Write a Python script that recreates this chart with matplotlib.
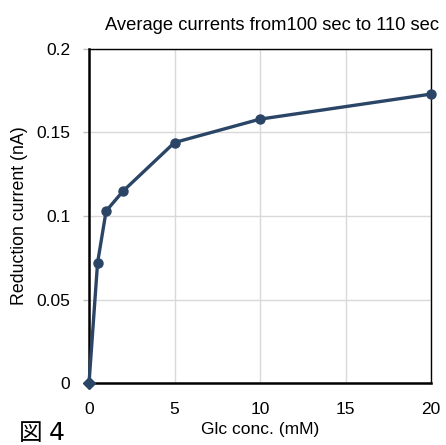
import numpy as np
import matplotlib
matplotlib.use('Agg')
import matplotlib.pyplot as plt

# data
glc_conc = [0, 0.5, 1, 2, 5, 10, 20]
current = [0.0, 0.072, 0.103, 0.115, 0.144, 0.158, 0.173]
x_ticks = [0, 5, 10, 15, 20]
y_ticks = [0, 0.05, 0.1, 0.15, 0.2]
y_ticklabels = ['0', '0.05', '0.1', '0.15', '0.2']

plt.rcParams['font.family'] = ['Liberation Sans', 'DejaVu Sans']
col = '#2b4566'

fig = plt.figure(figsize=(4.46, 4.45), dpi=100)
ax = fig.add_axes([0.1996, 0.1393, 0.7668, 0.7506])

ax.plot(glc_conc, current, color=col, lw=2.4, clip_on=False, zorder=3)
ax.plot(glc_conc[1:], current[1:], 'o', color=col, ms=6.5, clip_on=False, zorder=4)
ax.plot(glc_conc[:1], current[:1], 'D', color=col, ms=6, clip_on=False, zorder=4)

ax.set_xlim(0, 20)
ax.set_ylim(0, 0.2)
ax.set_xticks(x_ticks)
ax.set_yticks(y_ticks)
ax.set_yticklabels(y_ticklabels)
ax.grid(True, color='#d9d9d9', lw=1)
ax.set_axisbelow(True)
for s in ['left', 'bottom']:
    ax.spines[s].set_linewidth(1.8)
for s in ['top', 'right']:
    ax.spines[s].set_linewidth(1.0)
ax.tick_params(axis='both', labelsize=12.5)
ax.tick_params(axis='x', length=0, pad=14)
ax.tick_params(axis='y', length=4.5, width=1, color='#bfbfbf', pad=9)

ax.set_title('Average currents from100 sec to 110 sec', fontsize=13.2, pad=14, x=0.535)
ax.set_xlabel('Glc conc. (mM)', fontsize=12.5, labelpad=3)
ax.set_ylabel('Reduction current (nA)', fontsize=12.8, labelpad=6)

# figure label at bottom left
fig.text(0.043, 0.012, '図', fontsize=17, family=['Noto Sans CJK JP', 'DejaVu Sans'])
fig.text(0.11, 0.012, '4', fontsize=18, family=['Liberation Sans Narrow', 'DejaVu Sans'])

fig.savefig('out.png', dpi=100)
